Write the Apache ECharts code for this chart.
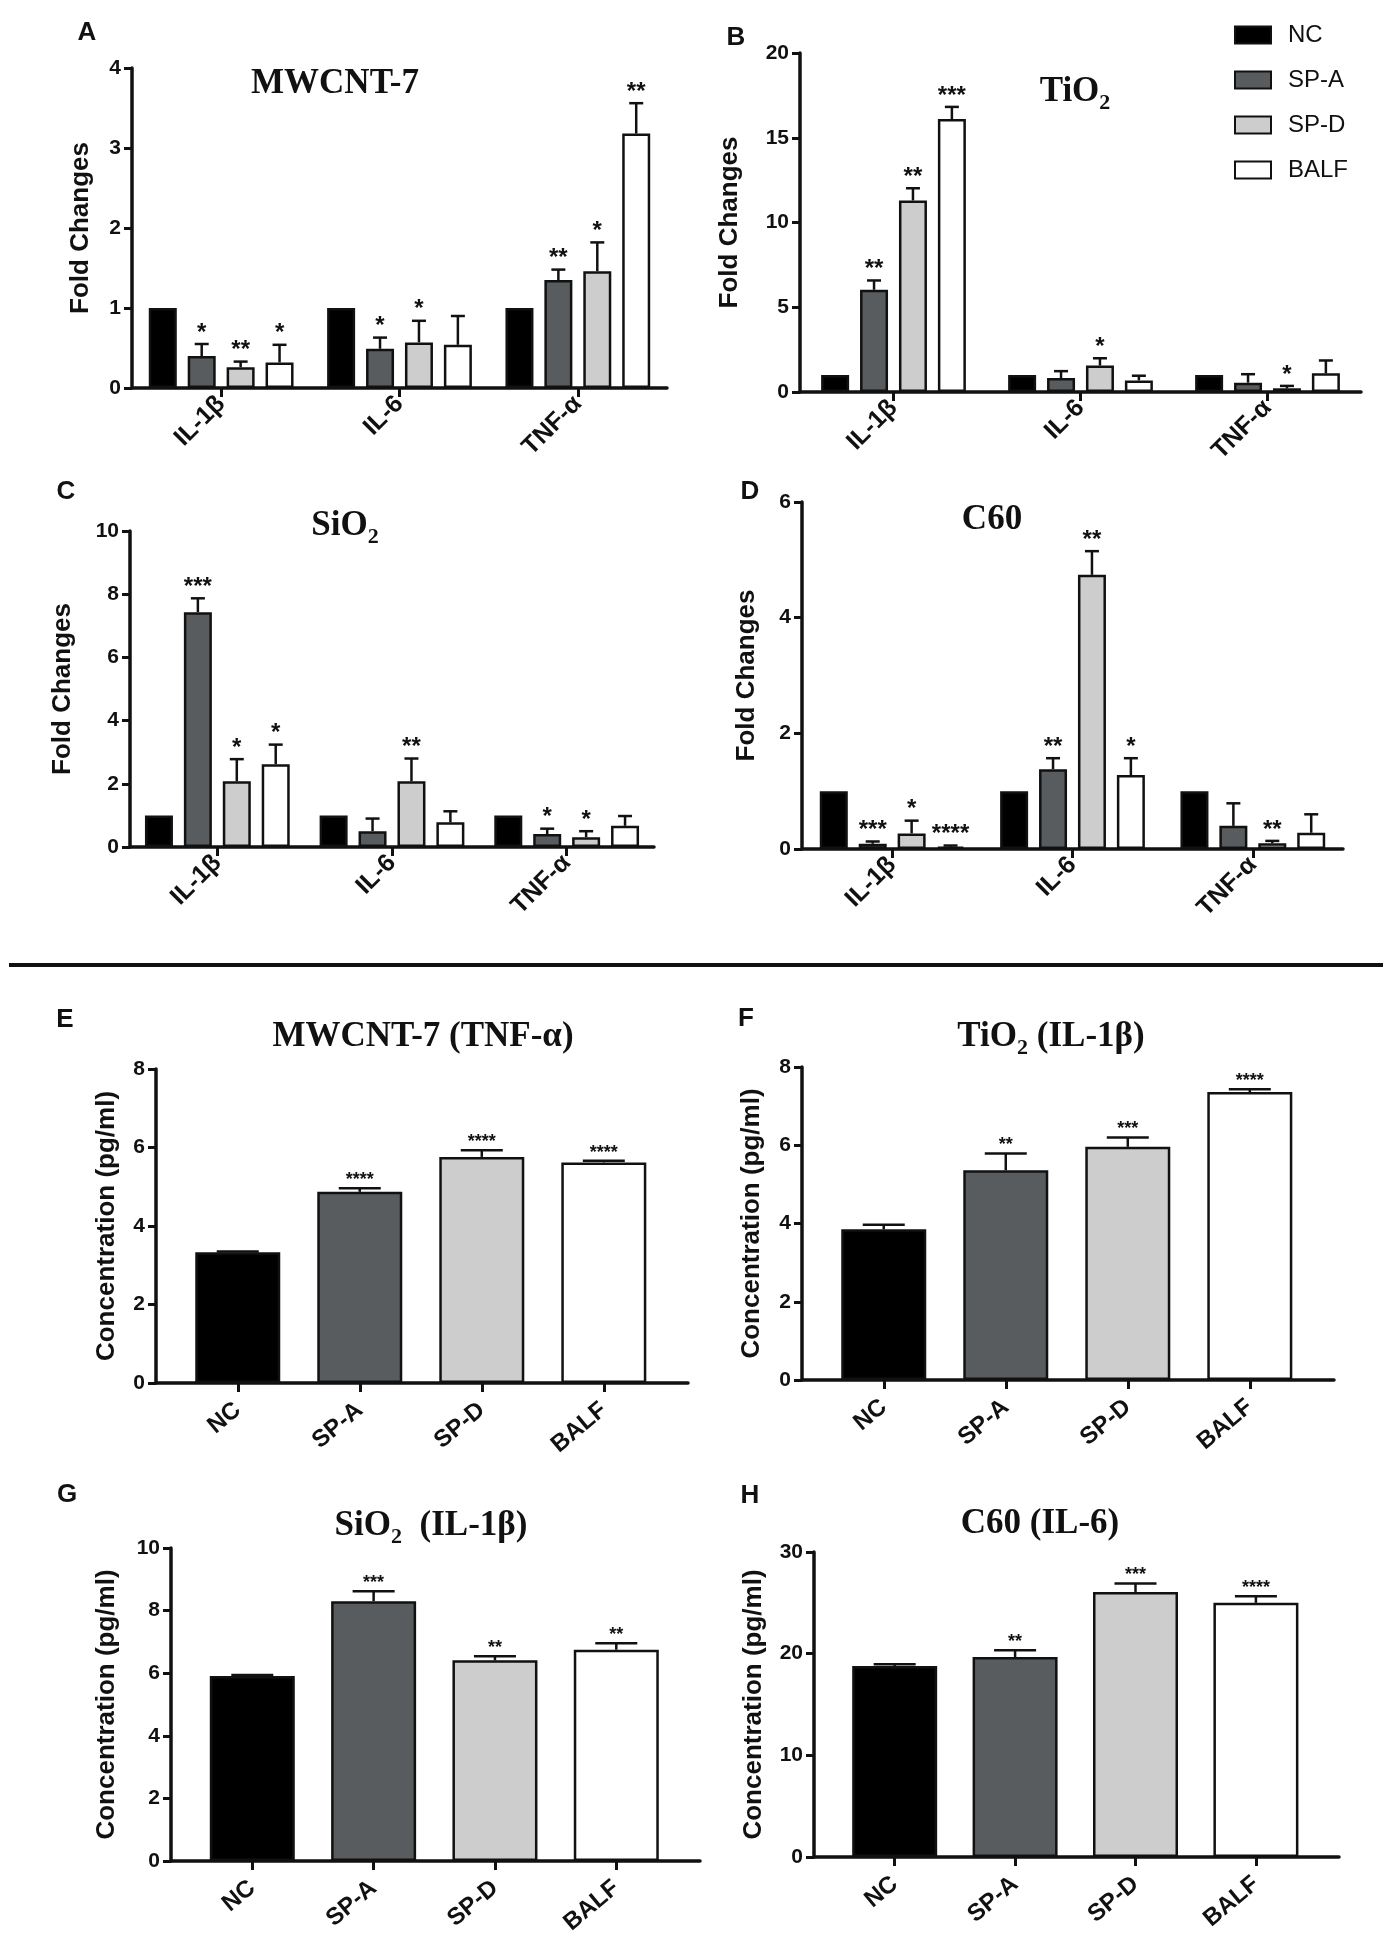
<!DOCTYPE html>
<html>
<head>
<meta charset="utf-8">
<title>Fold changes and cytokine concentrations</title>
<script src="https://cdn.jsdelivr.net/npm/echarts@6/dist/echarts.min.js"></script>
<style>
  html, body { margin: 0; padding: 0; background: #fff; }
  #chart { width: 1393px; height: 1943px; }
</style>
</head>
<body>
<div id="chart"></div>
<script>
// groups and cytokines
var groups = ['NC', 'SP-A', 'SP-D', 'BALF'];
var cytokines = ['IL-1β', 'IL-6', 'TNF-α'];

// fold changes: one row per group (NC, SP-A, SP-D, BALF), columns = cytokines
var mwcntFold = [[1, 1, 1], [0.40, 0.49, 1.35], [0.26, 0.57, 1.46], [0.32, 0.54, 3.18]];
var mwcntErr  = [[0, 0, 0], [0.15, 0.14, 0.13], [0.07, 0.27, 0.36], [0.22, 0.36, 0.38]];
var mwcntSig  = [['', '', ''], ['*', '*', '**'], ['**', '*', '*'], ['*', '', '**']];

var tio2Fold = [[1, 1, 1], [6.03, 0.82, 0.55], [11.3, 1.56, 0.22], [16.1, 0.68, 1.1]];
var tio2Err  = [[0, 0, 0], [0.55, 0.41, 0.5], [0.72, 0.43, 0.14], [0.72, 0.28, 0.76]];
var tio2Sig  = [['', '', ''], ['**', '', ''], ['**', '*', '*'], ['***', '', '']];

var sio2Fold = [[1, 1, 1], [7.43, 0.5, 0.41], [2.08, 2.08, 0.31], [2.62, 0.78, 0.67]];
var sio2Err  = [[0, 0, 0], [0.44, 0.4, 0.17], [0.7, 0.72, 0.19], [0.62, 0.35, 0.31]];
var sio2Sig  = [['', '', ''], ['***', '', '*'], ['*', '**', '*'], ['*', '', '']];

var c60Fold = [[1, 1, 1], [0.09, 1.38, 0.4], [0.27, 4.74, 0.1], [0.04, 1.28, 0.28]];
var c60Err  = [[0, 0, 0], [0.04, 0.19, 0.39], [0.22, 0.41, 0.04], [0.02, 0.29, 0.32]];
var c60Sig  = [['', '', ''], ['***', '**', ''], ['*', '**', '**'], ['****', '*', '']];

// concentrations (pg/ml), one value per group
var mwcntTnf    = [3.33, 4.87, 5.76, 5.62];
var mwcntTnfErr = [0.02, 0.09, 0.17, 0.04];
var mwcntTnfSig = ['', '****', '****', '****'];

var tio2Il1b    = [3.85, 5.36, 5.96, 7.36];
var tio2Il1bErr = [0.12, 0.43, 0.24, 0.07];
var tio2Il1bSig = ['', '**', '***', '****'];

var sio2Il1b    = [5.91, 8.3, 6.41, 6.75];
var sio2Il1bErr = [0.03, 0.32, 0.13, 0.21];
var sio2Il1bSig = ['', '***', '**', '**'];

var c60Il6    = [18.79, 19.67, 26.07, 25.0];
var c60Il6Err = [0.16, 0.66, 0.83, 0.64];
var c60Il6Sig = ['', '**', '***', '****'];

var fills = ['#000000', '#585c5e', '#cdcdcd', '#ffffff'];

var SANS = '"Liberation Sans", Arial, sans-serif';
var SERIF = '"Liberation Serif", "Times New Roman", serif';
var INK = '#111';

// layout of the panels
var topPanels = [
    {letter: 'A', lx: 87, ly: 33, title: 'MWCNT-7', tx: 335, ty: 84,
        grid: {left: 132, top: 68, width: 535, height: 320}, max: 4, interval: 1, nameGap: 38,
        fold: mwcntFold, err: mwcntErr, sig: mwcntSig},
    {letter: 'B', lx: 736, ly: 38, title: 'TiO{sub|2}', tx: 1075, ty: 92,
        grid: {left: 800, top: 53, width: 561, height: 339}, max: 20, interval: 5, nameGap: 57,
        fold: tio2Fold, err: tio2Err, sig: tio2Sig},
    {letter: 'C', lx: 66, ly: 492, title: 'SiO{sub|2}', tx: 345, ty: 526,
        grid: {left: 130, top: 531, width: 524, height: 316}, max: 10, interval: 2, nameGap: 54,
        fold: sio2Fold, err: sio2Err, sig: sio2Sig},
    {letter: 'D', lx: 750, ly: 492, title: 'C60', tx: 992, ty: 520,
        grid: {left: 802, top: 502, width: 541, height: 347}, max: 6, interval: 2, nameGap: 42,
        fold: c60Fold, err: c60Err, sig: c60Sig}
];

var bottomPanels = [
    {letter: 'E', lx: 65, ly: 1020, title: 'MWCNT-7 (TNF-α)', tx: 423, ty: 1037,
        grid: {left: 156, top: 1069, width: 532, height: 314}, max: 8, interval: 2, nameGap: 36,
        vals: mwcntTnf, err: mwcntTnfErr, sig: mwcntTnfSig},
    {letter: 'F', lx: 746, ly: 1019, title: 'TiO{sub|2} (IL-1β)', tx: 1051, ty: 1037,
        grid: {left: 802, top: 1067, width: 532, height: 313}, max: 8, interval: 2, nameGap: 37,
        vals: tio2Il1b, err: tio2Il1bErr, sig: tio2Il1bSig},
    {letter: 'G', lx: 67, ly: 1495, title: 'SiO{sub|2}  (IL-1β)', tx: 431, ty: 1526,
        grid: {left: 171, top: 1548, width: 529, height: 313}, max: 10, interval: 2, nameGap: 51,
        vals: sio2Il1b, err: sio2Il1bErr, sig: sio2Il1bSig},
    {letter: 'H', lx: 750, ly: 1496, title: 'C60 (IL-6)', tx: 1040, ty: 1524,
        grid: {left: 814, top: 1552, width: 525, height: 305}, max: 30, interval: 10, nameGap: 47,
        vals: c60Il6, err: c60Il6Err, sig: c60Il6Sig}
];

var TOP_BAR = 28, TOP_GAP = 0.39;
var BOT_BAR = 85;

function yAxisOf(idx, p, name) {
    return {
        type: 'value', gridIndex: idx, min: 0, max: p.max, interval: p.interval,
        name: name, nameLocation: 'middle', nameGap: p.nameGap, nameRotate: 90,
        nameTextStyle: {fontFamily: SANS, fontSize: 26, fontWeight: 'bold', color: INK},
        axisLine: {show: true, onZero: false, lineStyle: {color: INK, width: 3.5}},
        axisTick: {show: true, length: 8, lineStyle: {color: INK, width: 3}},
        axisLabel: {fontFamily: SANS, fontSize: 21, fontWeight: 'bold', color: INK, margin: 11},
        splitLine: {show: false}
    };
}

function errorBars(sigList, step, capHalf, starSize, starLift) {
    return function (params, api) {
        var x = api.value(0), g = api.value(1), mean = api.value(2), err = api.value(3);
        var p0 = api.coord([x, mean]);
        var p1 = api.coord([x, mean + err]);
        var cx = p0[0] + (g - 1.5) * step;
        var kids = [];
        if (err > 0) {
            kids.push({type: 'line', shape: {x1: cx, y1: p0[1], x2: cx, y2: p1[1]},
                style: {stroke: INK, lineWidth: 2.5}});
            kids.push({type: 'line', shape: {x1: cx - capHalf, y1: p1[1], x2: cx + capHalf, y2: p1[1]},
                style: {stroke: INK, lineWidth: 2.5}});
        }
        var s = sigList[params.dataIndex];
        if (s) {
            kids.push({type: 'text', style: {text: s, x: cx, y: p1[1] - starLift,
                align: 'center', verticalAlign: 'middle',
                fontFamily: SANS, fontSize: starSize, fontWeight: 'bold', fill: INK}});
        }
        return {type: 'group', children: kids};
    };
}

var grids = [], xAxes = [], yAxes = [], series = [], graphics = [];
var titleRich = {sub: {fontFamily: SERIF, fontSize: 22, fontWeight: 'bold', lineHeight: 22, verticalAlign: 'bottom', fill: INK}};

function addHeading(p) {
    graphics.push({type: 'text', x: p.lx, y: p.ly,
        style: {text: p.letter, align: 'center', verticalAlign: 'middle',
            fontFamily: SANS, fontSize: 26, fontWeight: 'bold', fill: INK}});
    graphics.push({type: 'text', x: p.tx, y: p.ty,
        style: {text: p.title, align: 'center', verticalAlign: 'middle', lineHeight: 44,
            fontFamily: SERIF, fontSize: 35, fontWeight: 'bold', fill: INK, rich: titleRich}});
}

topPanels.forEach(function (p, idx) {
    grids.push(p.grid);
    xAxes.push({
        type: 'category', gridIndex: idx, data: cytokines,
        axisLine: {show: true, lineStyle: {color: INK, width: 3.5}},
        axisTick: {show: true, alignWithLabel: true, length: 9, lineStyle: {color: INK, width: 3}},
        axisLabel: {rotate: 45, fontFamily: SANS, fontSize: 25, fontWeight: 'bold', color: INK, margin: 12},
        splitLine: {show: false}
    });
    yAxes.push(yAxisOf(idx, p, 'Fold Changes'));

    var errData = [], sigList = [];
    groups.forEach(function (g, gi) {
        series.push({
            name: g, type: 'bar', xAxisIndex: idx, yAxisIndex: idx,
            barWidth: TOP_BAR, barGap: (TOP_GAP * 100) + '%',
            itemStyle: {color: fills[gi], borderColor: INK, borderWidth: 2.5},
            data: p.fold[gi]
        });
        cytokines.forEach(function (c, ci) {
            errData.push([ci, gi, p.fold[gi][ci], p.err[gi][ci]]);
            sigList.push(p.sig[gi][ci]);
        });
    });
    series.push({
        type: 'custom', xAxisIndex: idx, yAxisIndex: idx, z: 5,
        renderItem: errorBars(sigList, TOP_BAR * (1 + TOP_GAP), 7, 24, 11),
        encode: {x: 0, y: 2},
        data: errData
    });
    addHeading(p);
});

bottomPanels.forEach(function (p, k) {
    var idx = k + topPanels.length;
    grids.push(p.grid);
    xAxes.push({
        type: 'value', gridIndex: idx, min: -0.67, max: 3.69,
        axisLine: {show: true, onZero: false, lineStyle: {color: INK, width: 3.5}},
        axisTick: {show: true, customValues: [0, 1, 2, 3], length: 9, lineStyle: {color: INK, width: 3}},
        axisLabel: {customValues: [0, 1, 2, 3], formatter: function (v) { return groups[Math.round(v)]; },
            rotate: 40, fontFamily: SANS, fontSize: 24, fontWeight: 'bold', color: INK, margin: 24},
        splitLine: {show: false}
    });
    yAxes.push(yAxisOf(idx, p, 'Concentration (pg/ml)'));

    var barData = [], errData = [];
    groups.forEach(function (g, gi) {
        barData.push({value: [gi, p.vals[gi]], itemStyle: {color: fills[gi]}});
        errData.push([gi, 1.5, p.vals[gi], p.err[gi]]);
    });
    series.push({
        name: p.letter, type: 'bar', xAxisIndex: idx, yAxisIndex: idx,
        barWidth: BOT_BAR,
        itemStyle: {borderColor: INK, borderWidth: 2.5},
        data: barData
    });
    series.push({
        type: 'custom', xAxisIndex: idx, yAxisIndex: idx, z: 5,
        renderItem: errorBars(p.sig, 0, 21, 18, 8),
        encode: {x: 0, y: 2},
        data: errData
    });
    addHeading(p);
});

// divider between the fold-change panels and the concentration panels
graphics.push({type: 'line', shape: {x1: 9, y1: 965, x2: 1383, y2: 965},
    style: {stroke: INK, lineWidth: 4}});

var myChart = echarts.init(document.getElementById('chart'), null, {renderer: 'canvas'});
var option = {
    backgroundColor: '#fff',
    animation: false,
    legend: {
        orient: 'vertical', left: 1229, top: 18,
        itemWidth: 36, itemHeight: 17, itemGap: 21, icon: 'rect',
        data: groups,
        textStyle: {fontFamily: SANS, fontSize: 24, color: INK, padding: [0, 0, 0, 12]}
    },
    grid: grids,
    xAxis: xAxes,
    yAxis: yAxes,
    series: series,
    graphic: graphics
};
myChart.setOption(option);
</script>
</body>
</html>
